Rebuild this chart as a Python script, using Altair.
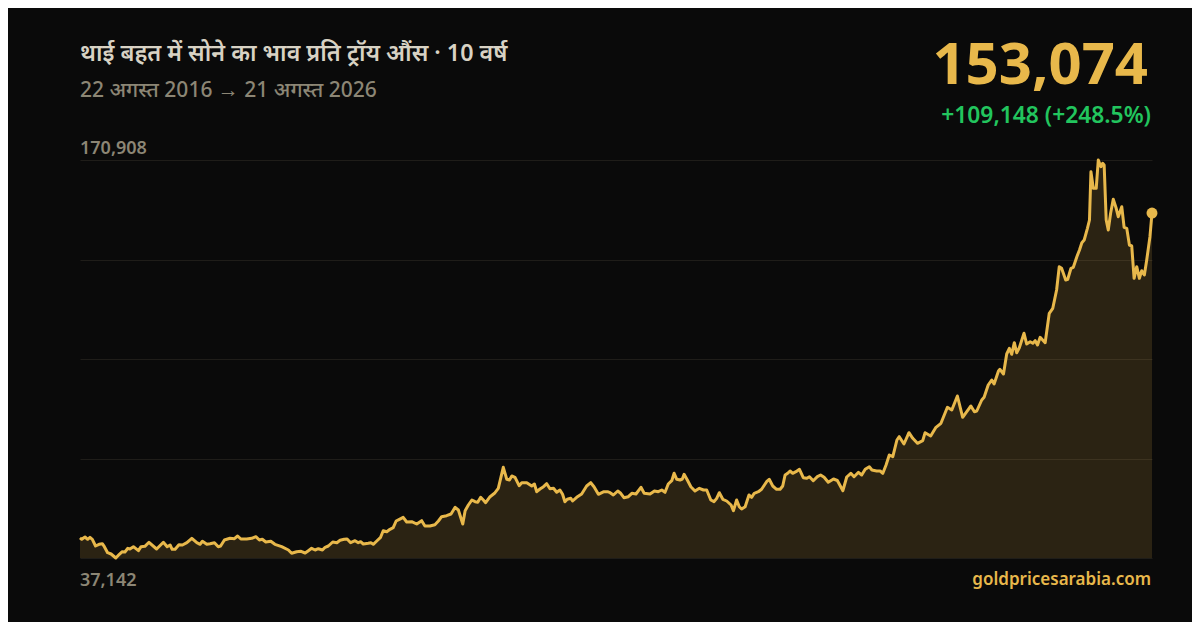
import altair as alt
import pandas as pd

START_DATE = "2016-08-22"
END_DATE = "2026-08-21"

# days since START_DATE
day = [0, 6, 17, 26, 34, 42, 53, 65, 76, 83, 94, 106, 122, 134, 144, 153, 163, 170, 182, 199,
       208, 221, 235, 261, 284, 297, 307, 314, 324, 337, 349, 364, 381, 398, 409, 417, 432, 443,
       458, 471, 479, 492, 511, 526, 537, 548, 568, 585, 599, 611, 621, 633, 650, 664, 687, 710,
       721, 738, 753, 767, 778, 789, 801, 812, 826, 835, 846, 861, 875, 886, 900, 910, 922, 937,
       948, 956, 965, 982, 991, 999, 1011, 1024, 1033, 1045, 1056, 1067, 1077, 1088, 1101, 1113,
       1130, 1147, 1164, 1175, 1192, 1209, 1221, 1232, 1249, 1264, 1278, 1289, 1304, 1312, 1323,
       1335, 1346, 1355, 1365, 1374, 1382, 1397, 1412, 1425, 1442, 1454, 1463, 1471, 1482, 1496,
       1505, 1522, 1539, 1548, 1556, 1567, 1579, 1590, 1601, 1613, 1624, 1635, 1644, 1652, 1660,
       1672, 1678, 1692, 1709, 1726, 1740, 1751, 1766, 1783, 1797, 1806, 1817, 1832, 1842, 1853,
       1868, 1880, 1894, 1911, 1922, 1942, 1957, 1970, 1982, 1993, 2004, 2016, 2024, 2033, 2044,
       2052, 2058, 2069, 2081, 2095, 2110, 2124, 2135, 2149, 2160, 2169, 2178, 2190, 2203, 2218,
       2226, 2237, 2246, 2254, 2266, 2279, 2288, 2297, 2311, 2322, 2339, 2348, 2360, 2373, 2385,
       2394, 2402, 2411, 2419, 2428, 2439, 2451, 2464, 2476, 2485, 2498, 2512, 2523, 2535, 2549,
       2567, 2580, 2599, 2612, 2626, 2637, 2652, 2663, 2675, 2689, 2698, 2714, 2726, 2735, 2746,
       2757, 2769, 2783, 2791, 2807, 2824, 2837, 2853, 2871, 2879, 2898, 2916, 2933, 2955, 2970,
       2989, 3007, 3021, 3035, 3047, 3055, 3072, 3080, 3094, 3106, 3114, 3129, 3134, 3146, 3157,
       3166, 3174, 3183, 3191, 3200, 3216, 3225, 3237, 3246, 3254, 3262, 3271, 3288, 3302, 3314,
       3327, 3336, 3344, 3358, 3365, 3376, 3384, 3396, 3405, 3413, 3421, 3432, 3439, 3444, 3452,
       3462, 3469, 3478, 3484, 3489, 3496, 3503, 3511, 3520, 3530, 3537, 3549, 3557, 3566, 3575,
       3583, 3591, 3600, 3609, 3617, 3626, 3634, 3645, 3652]

# Thai baht per troy ounce
price = [43926, 43427, 44200, 43427, 44099, 43427, 41175, 41747, 41948, 40940, 38923, 38486,
         37142, 38386, 39259, 39159, 40402, 40167, 40940, 39595, 40940, 41074, 42419, 40167,
         42419, 40940, 41511, 40066, 40066, 41612, 41511, 42284, 43763, 42284, 41747, 42755,
         41747, 41948, 42284, 40940, 41175, 43192, 43763, 43629, 44536, 43528, 43528, 43763,
         44301, 43192, 43427, 42520, 42755, 41747, 40940, 39831, 38722, 39259, 39394, 38823,
         39595, 40402, 39831, 40268, 39831, 40738, 41175, 42520, 42284, 43091, 43427, 43528,
         42284, 42957, 42284, 42620, 41847, 42083, 42284, 41747, 42856, 44099, 46318, 45981,
         46788, 47326, 49578, 50149, 50821, 49242, 49342, 48569, 49678, 47897, 47897, 48334,
         49578, 51023, 51359, 51930, 54182, 53275, 48569, 53040, 54955, 56636, 56064, 55863,
         57543, 56636, 55728, 57745, 58888, 60568, 67626, 63593, 63358, 64702, 64265, 61442,
         62450, 62450, 61341, 62013, 59425, 60333, 61106, 62114, 60434, 60568, 59224, 59997,
         58552, 56064, 56871, 57207, 56300, 57543, 58652, 61341, 62450, 61106, 58552, 59392,
         59425, 59090, 58316, 59661, 58888, 57409, 57745, 58888, 58652, 60904, 58888, 58652,
         59661, 59425, 59997, 59224, 62013, 63122, 65609, 63593, 63358, 63694, 65274, 63358,
         61106, 59661, 60568, 59997, 59997, 56636, 56064, 57207, 59090, 56871, 56300, 54955,
         53040, 56636, 54384, 53611, 54384, 58316, 57543, 58888, 59425, 60232, 62786, 63593,
         61341, 60232, 60232, 61341, 65038, 65609, 66383, 65609, 66148, 66955, 64131, 63929,
         64467, 63122, 64467, 65038, 64265, 62584, 63694, 63190, 59762, 64366, 65609, 64467,
         65946, 65038, 66955, 67828, 66719, 66383, 66383, 65609, 68399, 71760, 71189, 76802,
         77911, 75457, 79255, 77373, 75693, 76567, 79255, 78146, 81070, 82414, 87792, 86885,
         91590, 84431, 86313, 88229, 86313, 86549, 90246, 91153, 95287, 96968, 95623, 99993,
         100564, 98984, 105706, 107622, 105605, 109504, 106142, 107823, 112663, 109067, 109840,
         109302, 110176, 108731, 111319, 109504, 119385, 121066, 127217, 135048, 134510, 130578,
         130813, 134510, 134846, 138409, 140661, 143114, 144022, 147954, 150744, 166977, 161398,
         161398, 170908, 168657, 169800, 169229, 150744, 147383, 152995, 157701, 154676, 151853,
         155214, 148290, 147954, 142341, 142005, 131149, 135048, 131149, 133704, 132258, 137300,
         145131, 153074]

TITLE = "थाई बहत में सोने का भाव प्रति ट्रॉय औंस · 10 वर्ष"
SUBTITLE = "22 अगस्त 2016 → 21 अगस्त 2026"
LAST_LABEL = "153,074"
CHANGE_LABEL = "+109,148 (+248.5%)"
MAX_LABEL = "170,908"
MIN_LABEL = "37,142"
SOURCE = "goldpricesarabia.com"

Y_MIN, Y_MAX = 37142, 170908
TOTAL_DAYS = 3652

BG = "#0a0a0a"
GOLD = "#e8b84b"
GREEN = "#22c55e"
MUTED = "#8c8675"
TITLE_C = "#d8d2c4"
GRID = "#1f1d19"
FONT = "Noto Sans, Noto Sans Devanagari, Lohit Devanagari, sans-serif"

W, H = 1072, 398

df = pd.DataFrame({"day": day, "price": price})
df["date"] = pd.to_datetime(START_DATE) + pd.to_timedelta(df["day"], unit="D")
last = df.tail(1)

xs = alt.Scale(domain=[0, TOTAL_DAYS], nice=False, zero=False)
ys = alt.Scale(domain=[Y_MIN, Y_MAX], nice=False, zero=False)
step = (Y_MAX - Y_MIN) / 4
grid_vals = [Y_MIN + i * step for i in range(5)]

base = alt.Chart(df)

area = base.mark_area(color=GOLD, opacity=0.15).encode(
    x=alt.X("day:Q", scale=xs, axis=None),
    y=alt.Y("price:Q", scale=ys,
            axis=alt.Axis(values=grid_vals, grid=True, labels=False, ticks=False,
                          domain=False, title=None, gridColor=GRID, gridWidth=1)),
    y2=alt.datum(Y_MIN),
)

line = base.mark_line(color=GOLD, strokeWidth=3, strokeJoin="round").encode(
    x=alt.X("day:Q", scale=xs),
    y=alt.Y("price:Q", scale=ys),
)

dot = alt.Chart(last).mark_circle(color=GOLD, size=120, opacity=1).encode(
    x=alt.X("day:Q", scale=xs),
    y=alt.Y("price:Q", scale=ys),
)


def label(text, x, y, size, color, weight, align):
    return alt.Chart(pd.DataFrame({"t": [text]})).mark_text(
        font=FONT, fontSize=size, color=color, fontWeight=weight,
        align=align, baseline="alphabetic",
    ).encode(text="t:N", x=alt.value(x), y=alt.value(y))


texts = [
    label(TITLE, 0, -99, 23.3, TITLE_C, 600, "left"),
    label(SUBTITLE, 0, -63, 21, MUTED, 500, "left"),
    label(LAST_LABEL, 1068, -76, 58, GOLD, 700, "right"),
    label(CHANGE_LABEL, 1071, -37, 22.8, GREEN, 600, "right"),
    label(MAX_LABEL, 0, -6, 18, MUTED, 600, "left"),
    label(MIN_LABEL, 0, 426, 18, MUTED, 600, "left"),
    label(SOURCE, 1071, 425, 17, GOLD, 600, "right"),
]

chart = alt.layer(area, line, dot, *texts).properties(
    width=W, height=H, background=BG,
    padding={"left": 72, "top": 152, "right": 40, "bottom": 64},
    autosize=alt.AutoSizeParams(type="none"),
).configure_view(stroke=None)

chart.save("out.html", embed_options={"renderer": "svg", "actions": False})
